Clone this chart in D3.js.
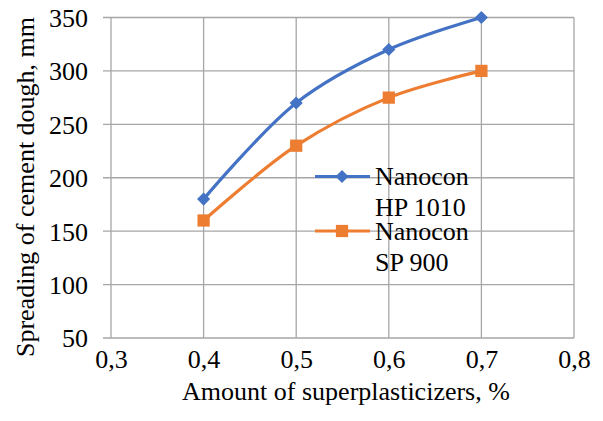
<!DOCTYPE html>
<html><head><meta charset="utf-8">
<script src="https://cdn.jsdelivr.net/npm/d3@7"></script>
<style>body{margin:0;background:#fff}svg{display:block}text{font-family:"Liberation Serif","Times New Roman",serif;fill:#000}</style>
</head><body><svg id="c" width="603" height="421"></svg>
<script>
const xValues = [0.4, 0.5, 0.6, 0.7];
const seriesNames = [["Nanocon", "HP 1010"], ["Nanocon", "SP 900"]];
const hp1010 = [180, 270, 320, 350];
const sp900 = [160, 230, 275, 300];
const xTicks = [0.3, 0.4, 0.5, 0.6, 0.7, 0.8];
const yTicks = [50, 100, 150, 200, 250, 300, 350];
const colors = ["#4472C4", "#ED7D31"];

const svg = d3.select("#c");
const L = 111, R = 574, T = 17.5, B = 338;
const x = d3.scaleLinear().domain([0.3, 0.8]).range([L, R]);
const y = d3.scaleLinear().domain([50, 350]).range([B, T]);
const fmt = d => d3.format(".1f")(d).replace(".", ",");

// gridlines
const grid = svg.append("g").attr("stroke", "#a6a6a6").attr("stroke-width", 1.3);
yTicks.forEach(t => grid.append("line").attr("x1", L - 8).attr("x2", R).attr("y1", y(t)).attr("y2", y(t)));
xTicks.forEach(t => grid.append("line").attr("x1", x(t)).attr("x2", x(t)).attr("y1", T).attr("y2", B));

// axes labels
const yAx = d3.axisLeft(y).tickValues(yTicks).tickSize(0).tickPadding(23);
const gy = svg.append("g").attr("transform", `translate(${L},0)`).call(yAx);
gy.select(".domain").remove();
gy.selectAll("text").attr("font-size", 26).attr("font-family", "Liberation Serif").attr("dy", "0.34em");
const xAx = d3.axisBottom(x).tickValues(xTicks).tickSize(0).tickPadding(12).tickFormat(fmt);
const gx = svg.append("g").attr("transform", `translate(0,${B})`).call(xAx);
gx.select(".domain").remove();
gx.selectAll("text").attr("font-size", 26).attr("font-family", "Liberation Serif").attr("dy", "0.71em");

svg.append("text").attr("x", 346).attr("y", 400).attr("text-anchor", "middle").attr("font-size", 26)
  .text("Amount of superplasticizers, %");
svg.append("text").attr("transform", "translate(34,187) rotate(-90)").attr("text-anchor", "middle").attr("font-size", 26)
  .text("Spreading of cement dough, mm");

const line = d3.line().x((d, i) => x(xValues[i])).y(d => y(d)).curve(d3.curveCatmullRom.alpha(0.5));
const diamond = d3.symbol().type(d3.symbolDiamond2).size(110);
const square = d3.symbol().type(d3.symbolSquare).size(150);

[hp1010, sp900].forEach((s, k) => {
  svg.append("path").attr("d", line(s)).attr("fill", "none").attr("stroke", colors[k]).attr("stroke-width", 3.2);
  svg.append("g").selectAll("path").data(s).join("path")
    .attr("transform", (d, i) => `translate(${x(xValues[i])},${y(d)})`)
    .attr("d", k === 0 ? diamond : square).attr("fill", colors[k]);
});

// legend
const legY = [176.5, 231];
seriesNames.forEach((nm, k) => {
  const g = svg.append("g");
  g.append("line").attr("x1", 315).attr("x2", 370).attr("y1", legY[k]).attr("y2", legY[k])
    .attr("stroke", colors[k]).attr("stroke-width", 3.2);
  g.append("path").attr("transform", `translate(342,${legY[k]})`).attr("d", k === 0 ? diamond : square).attr("fill", colors[k]);
  nm.forEach((t, j) => g.append("text").attr("x", 375).attr("y", legY[k] + 8.5 + j * 31).attr("font-size", 26).text(t));
});
</script></body></html>
